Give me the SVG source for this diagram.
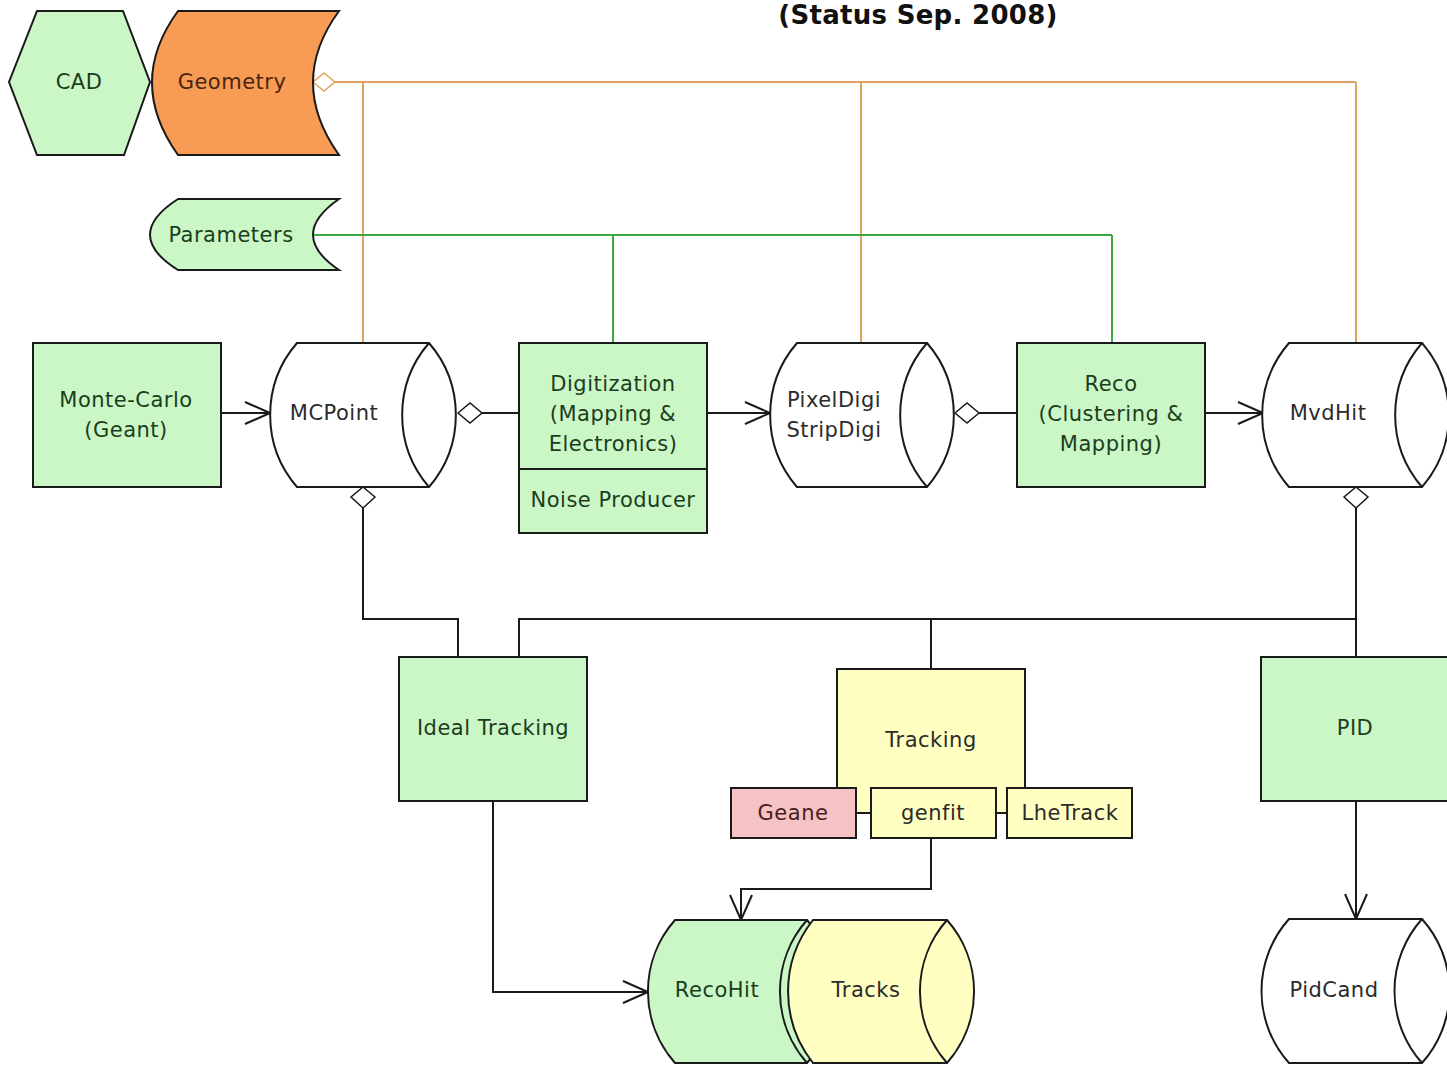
<svg xmlns="http://www.w3.org/2000/svg" width="1447" height="1066" viewBox="0 0 1447 1066">
<style>
  text { font-family: "DejaVu Sans", Verdana, sans-serif; font-size: 21px; letter-spacing: 0.5px; text-anchor: middle; fill: #2b2b2b; }
  .title { font-weight: bold; font-size: 26px; letter-spacing: 0.3px; fill: #111; }
  .shape { stroke: #1a1a1a; stroke-width: 2; }
  .green { fill: #cbf6c6; }
  .yellow { fill: #ffffc2; }
  .pink { fill: #f5c3c3; }
  .orange { fill: #f89c55; }
  .white { fill: #ffffff; }
  .ln { fill: none; stroke: #1a1a1a; stroke-width: 2; }
  .lno { fill: none; stroke: #e0a261; stroke-width: 2; }
  .lng { fill: none; stroke: #3aa83a; stroke-width: 2; }
  .dia { fill: #ffffff; stroke: #1a1a1a; stroke-width: 1.5; }
  .diao { fill: #ffffff; stroke: #e0a261; stroke-width: 1.5; }
  .gtxt { fill: #1c3d1c; }
</style>
<defs>
  <marker id="arr" markerUnits="userSpaceOnUse" viewBox="-28 -14 30 28" refX="0" refY="0" markerWidth="30" markerHeight="28" orient="auto">
    <path d="M-25,-11 L0,0 L-25,11" fill="none" stroke="#1a1a1a" stroke-width="2"/>
  </marker>
</defs>
<rect width="1447" height="1066" fill="#ffffff"/>

<text class="title" x="918" y="24">(Status Sep. 2008)</text>

<g id="connectors">
  <path class="lno" d="M335,82 H1356 M363,82 V343 M861,82 V343 M1356,82 V343"/>
  <polygon class="diao" points="313,82 324,73 335,82 324,91"/>
  <path class="lng" d="M313,235 H1112 M613,235 V343 M1112,235 V343"/>
  <path class="ln" d="M221,413 H270" marker-end="url(#arr)"/>
  <path class="ln" d="M482,413 H519"/>
  <polygon class="dia" points="458,413 470,403 482,413 470,423"/>
  <path class="ln" d="M707,413 H770" marker-end="url(#arr)"/>
  <path class="ln" d="M979,413 H1017"/>
  <polygon class="dia" points="955,413 967,403 979,413 967,423"/>
  <path class="ln" d="M1205,413 H1263" marker-end="url(#arr)"/>
  <path class="ln" d="M363,508 V619 H458 V657"/>
  <polygon class="dia" points="363,487 375,497 363,508 351,497"/>
  <path class="ln" d="M1356,508 V657"/>
  <polygon class="dia" points="1356,487 1368,497 1356,508 1344,497"/>
  <path class="ln" d="M519,657 V619 H1356"/>
  <path class="ln" d="M931,619 V669"/>
  <path class="ln" d="M493,801 V992 H648" marker-end="url(#arr)"/>
  <path class="ln" d="M931,838 V889 H741 V920" marker-end="url(#arr)"/>
  <path class="ln" d="M1356,801 V919" marker-end="url(#arr)"/>
  <path class="ln" d="M856,813 H871 M996,813 H1007"/>
</g>

<g id="cad">
  <polygon class="shape green" points="37,11 123,11 150,82 124,155 37,155 9,82"/>
  <text class="gtxt" x="79" y="89">CAD</text>
</g>

<g id="geometry">
  <path class="shape orange" d="M178,11 H339 Q287,82 339,155 H178 Q126,82 178,11 Z"/>
  <text x="232" y="89" style="fill:#4a2510">Geometry</text>
</g>

<g id="parameters">
  <path class="shape green" d="M178,199 H339 Q287,235 339,270 H178 Q122,235 178,199 Z"/>
  <text class="gtxt" x="231" y="242">Parameters</text>
</g>

<g id="montecarlo">
  <rect class="shape green" x="33" y="343" width="188" height="144"/>
  <text class="gtxt" x="126" y="407">Monte-Carlo</text>
  <text class="gtxt" x="126" y="437">(Geant)</text>
</g>

<g id="mcpoint">
  <path class="shape white" d="M297,343 H429 A110,110 0 0 1 429,487 H297 A110,110 0 0 1 297,343 Z"/>
  <path class="ln" d="M429,343 A110,110 0 0 0 429,487"/>
  <text x="334" y="420">MCPoint</text>
</g>

<g id="digitization">
  <rect class="shape green" x="519" y="343" width="188" height="190"/>
  <path class="ln" d="M519,469 H707"/>
  <text class="gtxt" x="613" y="391">Digitization</text>
  <text class="gtxt" x="613" y="421">(Mapping &amp;</text>
  <text class="gtxt" x="613" y="451">Electronics)</text>
  <text class="gtxt" x="613" y="507">Noise Producer</text>
</g>

<g id="pixeldigi">
  <path class="shape white" d="M797,343 H927 A110,110 0 0 1 927,487 H797 A110,110 0 0 1 797,343 Z"/>
  <path class="ln" d="M927,343 A110,110 0 0 0 927,487"/>
  <text x="834" y="407">PixelDigi</text>
  <text x="834" y="437">StripDigi</text>
</g>

<g id="reco">
  <rect class="shape green" x="1017" y="343" width="188" height="144"/>
  <text class="gtxt" x="1111" y="391">Reco</text>
  <text class="gtxt" x="1111" y="421">(Clustering &amp;</text>
  <text class="gtxt" x="1111" y="451">Mapping)</text>
</g>

<g id="mvdhit">
  <path class="shape white" d="M1289,343 H1422 A110,110 0 0 1 1422,487 H1289 A110,110 0 0 1 1289,343 Z"/>
  <path class="ln" d="M1422,343 A110,110 0 0 0 1422,487"/>
  <text x="1328" y="420">MvdHit</text>
</g>

<g id="idealtracking">
  <rect class="shape green" x="399" y="657" width="188" height="144"/>
  <text class="gtxt" x="493" y="735">Ideal Tracking</text>
</g>

<g id="tracking">
  <rect class="shape yellow" x="837" y="669" width="188" height="144"/>
  <text x="931" y="747">Tracking</text>
</g>

<g id="geane">
  <rect class="shape pink" x="731" y="788" width="125" height="50"/>
  <text x="793" y="820" style="fill:#4a1c1c">Geane</text>
</g>

<g id="genfit">
  <rect class="shape yellow" x="871" y="788" width="125" height="50"/>
  <text x="933" y="820">genfit</text>
</g>

<g id="lhetrack">
  <rect class="shape yellow" x="1007" y="788" width="125" height="50"/>
  <text x="1070" y="820">LheTrack</text>
</g>

<g id="pid">
  <rect class="shape green" x="1261" y="657" width="188" height="144"/>
  <text class="gtxt" x="1355" y="735">PID</text>
</g>

<g id="recohit">
  <path class="shape green" d="M675,920 H807 A108,108 0 0 1 807,1063 H675 A108,108 0 0 1 675,920 Z"/>
  <path class="ln" d="M807,920 A108,108 0 0 0 807,1063"/>
  <text class="gtxt" x="717" y="997">RecoHit</text>
</g>

<g id="tracks">
  <path class="shape yellow" d="M813,920 H947 A108,108 0 0 1 947,1063 H813 A115,115 0 0 1 813,920 Z"/>
  <path class="ln" d="M947,920 A108,108 0 0 0 947,1063"/>
  <text x="866" y="997">Tracks</text>
</g>

<g id="pidcand">
  <path class="shape white" d="M1289,919 H1422 A108,108 0 0 1 1422,1063 H1289 A108,108 0 0 1 1289,919 Z"/>
  <path class="ln" d="M1422,919 A108,108 0 0 0 1422,1063"/>
  <text x="1334" y="997">PidCand</text>
</g>
</svg>
